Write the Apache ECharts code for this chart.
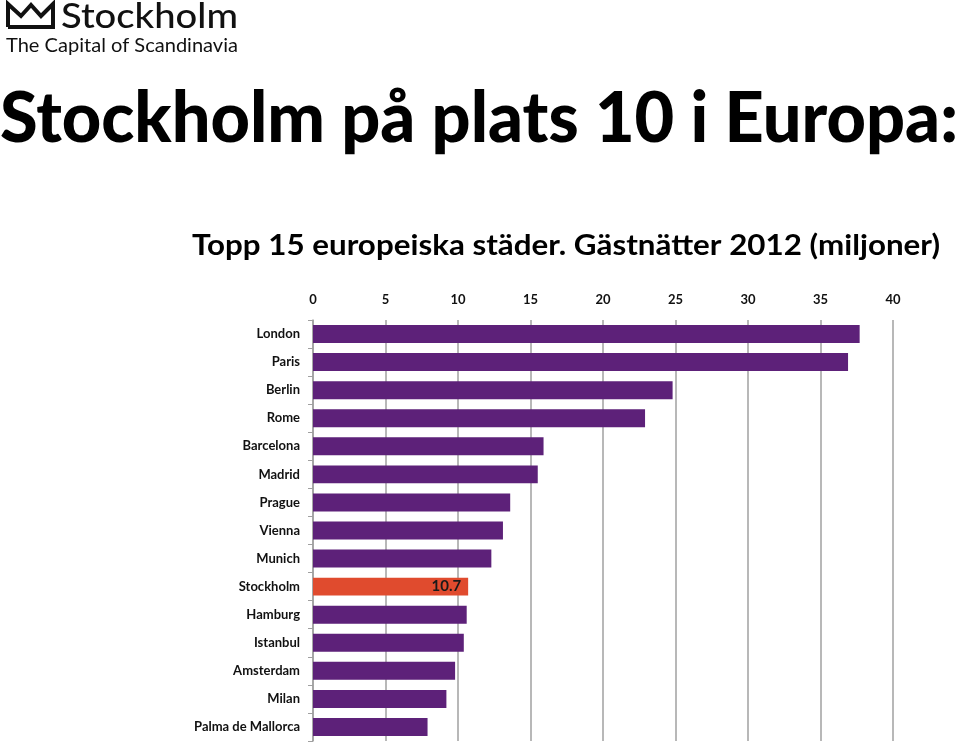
<!DOCTYPE html>
<html>
<head>
<meta charset="utf-8">
<script src="https://cdn.jsdelivr.net/npm/echarts@6/dist/echarts.min.js"></script>
<style>html,body{margin:0;padding:0;background:#fff}#c{width:960px;height:743px}</style>
</head>
<body>
<div id="c"></div>
<script>
const cities = ['London','Paris','Berlin','Rome','Barcelona','Madrid','Prague','Vienna','Munich','Stockholm','Hamburg','Istanbul','Amsterdam','Milan','Palma de Mallorca'];
const nights = [37.7, 36.9, 24.8, 22.9, 15.9, 15.5, 13.6, 13.1, 12.3, 10.7, 10.6, 10.4, 9.8, 9.2, 7.9];
const highlightCity = 'Stockholm';
const xTicks = [0, 5, 10, 15, 20, 25, 30, 35, 40];

const mainTitle = 'Stockholm på plats 10 i Europa:';
const subTitle = 'Topp 15 europeiska städer. Gästnätter 2012 (miljoner)';
const logoName = 'Stockholm';
const logoTag = 'The Capital of Scandinavia';

function fitScale(text, font, target) {
  const cv = document.createElement('canvas').getContext('2d');
  cv.font = font;
  return target / cv.measureText(text).width;
}
const titleFont = '900 70px Lato';
const subFont = 'bold 28px Lato';
const logoFont = '500 34px Lato';
const tagFont = '400 20px Lato';

const chart = echarts.init(document.getElementById('c'), null, {renderer: 'canvas'});
const PURPLE = '#5d2179';
const RED = '#e04b2e';

chart.setOption({
  backgroundColor: '#fff',
  animation: false,
  grid: {left: 313, right: 67, top: 320, bottom: 2, containLabel: false},
  xAxis: {
    type: 'value', position: 'top', min: 0, max: 40, interval: 5,
    axisLine: {show: false}, axisTick: {show: false},
    splitLine: {show: true, lineStyle: {color: '#a0a0a0', width: 1.5}},
    axisLabel: {margin: 14, color: '#111', fontFamily: 'Lato', fontWeight: 'bold', fontSize: 13,
      formatter: v => xTicks.includes(v) ? String(v) : ''}
  },
  yAxis: {
    type: 'category', inverse: true, data: cities,
    axisLine: {show: true, lineStyle: {color: '#a0a0a0', width: 1.5}},
    axisTick: {show: true, length: 5, lineStyle: {color: '#a0a0a0'}},
    axisLabel: {margin: 13, color: '#111', fontFamily: 'Lato', fontWeight: 'bold', fontSize: 13}
  },
  series: [{
    type: 'bar', barCategoryGap: '36%',
    data: nights.map((v, i) => ({
      value: v,
      itemStyle: {color: cities[i] === highlightCity ? RED : PURPLE},
      label: cities[i] === highlightCity ? {show: true, position: 'insideRight', distance: 7,
        color: '#1a1a1a', fontFamily: 'Lato', fontWeight: 'bold', fontSize: 15,
        formatter: p => p.value.toFixed(1)} : {show: false}
    }))
  }],
  graphic: [
    {type: 'polyline', shape: {points: [[8,27],[8,4],[21,16],[31,5],[41,16],[53,4],[53,27],[8,27]]},
      style: {stroke: '#111', lineWidth: 4, fill: null, lineJoin: 'miter'}},
    {type: 'text', x: 61, y: 0, scaleX: fitScale(logoName, logoFont, 177), style: {text: logoName, font: logoFont, fill: '#111'}},
    {type: 'text', x: 6, y: 36, scaleX: fitScale(logoTag, tagFont, 232), style: {text: logoTag, font: tagFont, fill: '#111'}},
    {type: 'text', x: 0, y: 84, scaleX: fitScale(mainTitle, titleFont, 958), style: {text: mainTitle, font: titleFont, fill: '#000'}},
    {type: 'text', x: 192, y: 232, scaleX: fitScale(subTitle, subFont, 748), style: {text: subTitle, font: subFont, fill: '#000'}}
  ]
});
</script>
</body>
</html>
